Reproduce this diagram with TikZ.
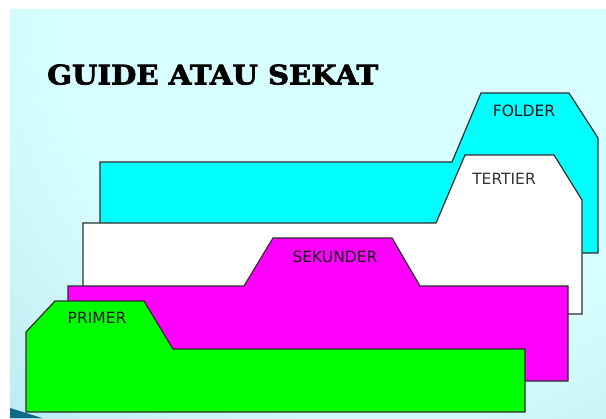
\documentclass[tikz,border=0pt]{standalone}
\usepackage{fontspec}
\newfontfamily\labelfont{DejaVu Sans}
\newfontfamily\titlefont{DejaVu Serif}[UprightFont=* Bold, FakeBold=2.5]
\definecolor{bglight}{HTML}{D8FFFF}
\definecolor{bgblue}{HTML}{A8DCE8}
\definecolor{teal}{HTML}{0E6A8A}
\definecolor{foldercol}{HTML}{00FFFF}
\definecolor{sekcol}{HTML}{FF00FF}
\definecolor{primcol}{HTML}{00FF00}
\definecolor{edgecol}{HTML}{2E2E2E}
\pgfdeclareradialshading{bgshade}{\pgfpoint{0bp}{0bp}}{%
  color(0bp)=(bglight); color(11bp)=(bglight); color(24bp)=(bgblue); color(50bp)=(bgblue)}
\tikzset{
  tabshape/.style={draw=edgecol, line width=1.2bp, line join=miter},
  tablabel/.style={font=\labelfont\fontsize{15.5bp}{17bp}\selectfont, text=black!90, inner sep=0pt}
}
\begin{document}
\begin{tikzpicture}[x=1bp, y=-1bp]
\useasboundingbox (0,0) rectangle (606,418);
\fill[white] (0,0) rectangle (606,418);
\begin{scope}
  \clip (10,9) rectangle (606,418);
  \shade[shading=bgshade] (390,10) circle (760bp);
  \fill[teal] (10,408) -- (42,418) -- (10,418) -- cycle;
\end{scope}
\node[anchor=south west, inner sep=0pt] (title) at (47,85)
  {\resizebox{331bp}{20bp}{\titlefont GUIDE ATAU SEKAT}};
% FOLDER
\filldraw[tabshape, fill=foldercol] (100,253) -- (100,162) -- (452,162) -- (481,93) -- (569,93)
  -- (598,138) -- (598,253) -- cycle;
\node[tablabel] (folder) at (524,111) {FOLDER};
% TERTIER
\filldraw[tabshape, fill=white] (83,314) -- (83,223) -- (436,223) -- (465,155) -- (554,155)
  -- (582,200) -- (582,314) -- cycle;
\node[tablabel, text=black!80] (tertier) at (504,179) {TERTIER};
% SEKUNDER
\filldraw[tabshape, fill=sekcol] (68,381) -- (68,286) -- (244,286) -- (273,238) -- (392,238)
  -- (420,286) -- (568,286) -- (568,381) -- cycle;
\node[tablabel] (sekunder) at (335,257) {SEKUNDER};
% PRIMER
\filldraw[tabshape, fill=primcol] (26,412) -- (26,332) -- (55,301) -- (144,301) -- (173,349)
  -- (525,349) -- (525,412) -- cycle;
\node[tablabel] (primer) at (97,318) {PRIMER};
\end{tikzpicture}
\end{document}
